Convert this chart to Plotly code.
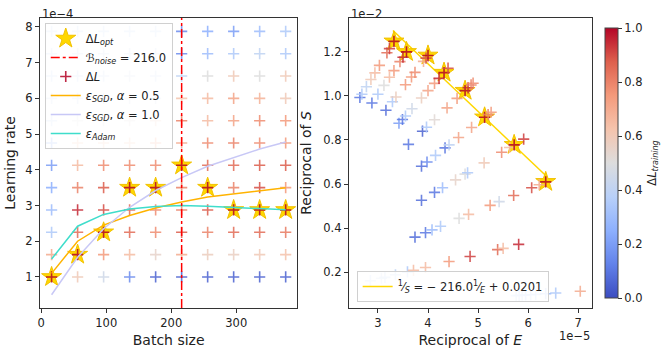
import plotly.graph_objects as go

# ---------------- data: left panel ----------------
batch_sizes = [16, 56, 96, 136, 176, 216, 256, 296, 336, 376]
lr_1e4 = [1.0, 1.625, 2.25, 2.875, 3.5, 4.125, 4.75, 5.375, 6.0, 6.625, 7.25, 7.875]
# normalised Delta L per (lr row, batch column), rows bottom -> top
dl_grid = [
    [1.00, 0.60, 0.45, 0.15, 0.05, 0.05, 0.05, 0.05, 0.05, 0.05],
    [0.70, 1.00, 0.75, 0.65, 0.55, 0.70, 0.58, 0.57, 0.60, 0.63],
    [0.35, 0.85, 1.00, 0.85, 0.78, 0.88, 0.80, 0.85, 0.85, 0.82],
    [0.30, 0.95, 0.90, 0.85, 0.78, 0.80, 0.88, 1.00, 1.00, 1.00],
    [0.25, 0.80, 0.88, 1.00, 1.00, 0.80, 1.00, 0.80, 0.90, 0.75],
    [0.20, 0.65, 0.78, 0.78, 0.78, 1.00, 0.85, 0.85, 0.88, 0.88],
    [0.20, 0.65, 0.65, 0.65, 0.75, 0.70, 0.78, 0.80, 0.78, 0.75],
    [0.40, 0.50, 0.50, 0.52, 0.60, 0.80, 0.65, 0.72, 0.78, 0.75],
    [0.42, 0.42, 0.45, 0.45, 0.45, 0.62, 0.65, 0.72, 0.68, 0.60],
    [0.40, 0.40, 0.42, 0.45, 0.42, 0.40, 0.50, 0.60, 0.50, 0.60],
    [0.40, 0.42, 0.42, 0.42, 0.42, 0.15, 0.30, 0.35, 0.40, 0.35],
    [0.40, 0.40, 0.40, 0.40, 0.40, 0.15, 0.25, 0.20, 0.30, 0.35],
]
opt_lr_1e4 = [1.0, 1.625, 2.25, 3.5, 3.5, 4.125, 3.5, 2.875, 2.875, 2.875]
eps_sgd_05 = [1.10, 2.00, 2.45, 2.72, 2.93, 3.10, 3.24, 3.33, 3.42, 3.50]
eps_sgd_10 = [0.50, 1.55, 2.35, 2.95, 3.42, 3.78, 4.10, 4.35, 4.58, 4.78]
eps_adam = [1.50, 2.42, 2.75, 2.90, 2.97, 3.00, 2.98, 2.95, 2.92, 2.88]
B_NOISE = 216.0

# ---------------- data: right panel (1/E in 1e-5, 1/S in 1e-2) ----------------
inv_E_1e5 = [
    5.76, 5.82, 5.88, 5.95, 6.05, 6.15, 6.35, 6.55, 7.04,                     # B=16
    2.85, 3.07, 3.14, 3.35, 3.59, 3.71, 3.95, 4.42, 4.84, 5.39, 5.50, 5.81,   # B=56
    3.74, 3.95, 4.08, 4.25, 4.62, 4.81, 5.24, 5.42, 5.71, 6.07, 6.22, 6.35,   # B=96
    3.87, 4.13, 4.29, 4.55, 4.74, 4.79, 5.12, 5.47, 5.63, 5.72, 5.91,         # B=136
    3.87, 3.98, 4.15, 4.34, 4.42, 4.61, 4.87, 5.13, 5.20, 5.26,               # B=176
    3.61, 3.89, 3.97, 4.13, 4.38, 4.58, 4.74, 4.80, 4.86, 4.90,               # B=216
    3.42, 3.49, 3.55, 3.68, 3.87, 4.00, 4.13, 4.22, 4.32, 4.40,               # B=256
    3.16, 3.29, 3.36, 3.55, 3.67, 3.74, 3.91, 3.96, 4.00,                     # B=296
    2.88, 3.00, 3.12, 3.23, 3.32, 3.44, 3.50, 3.57,                           # B=336
    2.64, 2.68, 2.77, 2.86, 2.94, 3.03, 3.18, 3.23, 3.32,                     # B=376
]
inv_S_1e2 = [
    0.093, 0.094, 0.095, 0.096, 0.097, 0.099, 0.102, 0.105, 0.113,
    0.161, 0.172, 0.176, 0.188, 0.201, 0.208, 0.221, 0.248, 0.271, 0.302, 0.308, 0.326,
    0.359, 0.379, 0.392, 0.408, 0.444, 0.462, 0.503, 0.520, 0.548, 0.583, 0.597, 0.610,
    0.526, 0.562, 0.583, 0.619, 0.645, 0.651, 0.696, 0.744, 0.766, 0.778, 0.804,
    0.681, 0.700, 0.730, 0.764, 0.778, 0.811, 0.857, 0.903, 0.915, 0.926,
    0.780, 0.840, 0.858, 0.892, 0.946, 0.989, 1.024, 1.037, 1.050, 1.058,
    0.876, 0.893, 0.909, 0.942, 0.991, 1.024, 1.057, 1.080, 1.106, 1.126,
    0.935, 0.974, 0.995, 1.051, 1.086, 1.107, 1.157, 1.172, 1.184,
    0.968, 1.008, 1.048, 1.085, 1.115, 1.156, 1.176, 1.200,
    0.993, 1.008, 1.042, 1.075, 1.105, 1.139, 1.196, 1.215, 1.248,
]
dl_right = [
    0.40, 0.38, 0.40, 0.35, 0.38, 0.35, 0.30, 0.35, 0.70,
    0.40, 0.42, 0.40, 0.40, 0.35, 0.65, 0.65, 0.75, 0.92, 0.85, 0.65, 0.95,
    0.08, 0.10, 0.30, 0.35, 0.50, 0.65, 0.75, 0.45, 0.85, 0.90, 0.70, 1.00,
    0.08, 0.10, 0.30, 0.55, 0.50, 0.35, 0.60, 0.78, 0.65, 1.00, 0.92,
    0.08, 0.15, 0.35, 0.10, 0.40, 0.72, 0.72, 1.00, 0.80, 0.75,
    0.10, 0.05, 0.35, 0.52, 0.72, 0.75, 1.00, 0.95, 0.80, 0.78,
    0.20, 0.10, 0.35, 0.45, 0.58, 0.72, 0.75, 0.95, 1.00, 0.90,
    0.08, 0.35, 0.58, 0.75, 0.75, 0.78, 0.70, 0.90, 1.00,
    0.10, 0.35, 0.50, 0.65, 0.75, 0.80, 0.95, 1.00,
    0.10, 0.35, 0.40, 0.60, 0.65, 0.75, 0.85, 0.92, 1.00,
]
opt_inv_E_1e5 = [3.32, 3.57, 4.00, 4.32, 4.74, 5.13, 5.72, 6.35]
opt_inv_S_1e2 = [1.248, 1.200, 1.184, 1.106, 1.024, 0.903, 0.778, 0.610]
FIT_SLOPE = -216.0
FIT_INTERCEPT = 0.0201
fit_x_1e5 = [3.30, 6.35]

# ---------------- styling ----------------
COOLWARM = [[0.0, '#3b4cc0'], [0.125, '#6282ea'], [0.25, '#8db0fe'], [0.375, '#b8d0f9'],
            [0.5, '#dddddd'], [0.625, '#f5c4ad'], [0.75, '#f49a7b'], [0.875, '#de604d'],
            [1.0, '#b40426']]
FONT = 'DejaVu Sans'
FS = 11.5
STAR_FILL = '#FFD700'
STAR_EDGE = '#F2C200'
STAR_SIZE = 15
CROSS_SIZE = 8

fig = go.Figure()

# left panel --------------------------------------------------------
fig.add_trace(go.Scatter(
    x=batch_sizes, y=opt_lr_1e4, mode='markers', name='Δ<i>L<sub>opt</sub></i>',
    marker=dict(symbol='star', size=STAR_SIZE, color=STAR_FILL, line=dict(color=STAR_EDGE, width=1)),
    xaxis='x', yaxis='y', legendrank=1))

cx, cy, cc = [], [], []
for i, lr in enumerate(lr_1e4):
    for j, b in enumerate(batch_sizes):
        cx.append(b)
        cy.append(lr)
        cc.append(dl_grid[i][j])
fig.add_trace(go.Scatter(
    x=cx, y=cy, mode='markers', name='Δ<i>L</i>',
    marker=dict(symbol='cross-thin', size=CROSS_SIZE, color=cc, colorscale=COOLWARM, cmin=0, cmax=1,
                opacity=0.85,
                line=dict(width=1.6, color=cc, colorscale=COOLWARM, cmin=0, cmax=1)),
    xaxis='x', yaxis='y', legendrank=3))

fig.add_trace(go.Scatter(x=batch_sizes, y=eps_sgd_05, mode='lines',
                         name='<i>ε<sub>SGD</sub></i>, <i>α</i> = 0.5',
                         line=dict(color='#FFB300', width=1.5), legendrank=4))
fig.add_trace(go.Scatter(x=batch_sizes, y=eps_sgd_10, mode='lines',
                         name='<i>ε<sub>SGD</sub></i>, <i>α</i> = 1.0',
                         line=dict(color='#C8C8F6', width=1.5), legendrank=5))
fig.add_trace(go.Scatter(x=batch_sizes, y=eps_adam, mode='lines',
                         name='<i>ε<sub>Adam</sub></i>',
                         line=dict(color='#3FDDCB', width=1.5), legendrank=6))

fig.add_shape(type='line', xref='x', yref='y domain', x0=B_NOISE, x1=B_NOISE, y0=0, y1=1,
              line=dict(color='#FF0000', width=1.5, dash='dashdot'),
              showlegend=True, name='ℬ<i><sub>noise</sub></i> = %.1f' % B_NOISE, legendrank=2)

# right panel -------------------------------------------------------
fit_y_1e2 = [(FIT_SLOPE * x * 1e-5 + FIT_INTERCEPT) * 1e2 for x in fit_x_1e5]
fig.add_trace(go.Scatter(x=fit_x_1e5, y=fit_y_1e2, mode='lines', xaxis='x2', yaxis='y2',
                         name='<sup>1</sup>⁄<sub><i>S</i></sub> = − 216.0<sup>1</sup>⁄<sub><i>E</i></sub> + 0.0201',
                         line=dict(color='#FFD700', width=1.5), legend='legend2'))
fig.add_trace(go.Scatter(x=opt_inv_E_1e5, y=opt_inv_S_1e2, mode='markers', xaxis='x2', yaxis='y2',
                         marker=dict(symbol='star', size=STAR_SIZE, color=STAR_FILL,
                                     line=dict(color=STAR_EDGE, width=1)),
                         showlegend=False))
fig.add_trace(go.Scatter(
    x=inv_E_1e5, y=inv_S_1e2, mode='markers', xaxis='x2', yaxis='y2', showlegend=False,
    marker=dict(symbol='cross-thin', size=CROSS_SIZE, color=dl_right, colorscale=COOLWARM, cmin=0, cmax=1,
                opacity=0.85,
                line=dict(width=1.6, color=dl_right, colorscale=COOLWARM, cmin=0, cmax=1))))
# colorbar carrier
fig.add_trace(go.Scatter(
    x=[None, None], y=[None, None], mode='markers', xaxis='x2', yaxis='y2', showlegend=False,
    marker=dict(color=[0, 1], colorscale=COOLWARM, cmin=0, cmax=1, showscale=True,
                colorbar=dict(x=610 / 670, xanchor='left', xref='paper', thickness=13,
                              len=290 / 354, lenmode='fraction', y=(354 - 163) / 354, yanchor='middle',
                              outlinewidth=1, outlinecolor='#444',
                              tickvals=[0, 0.2, 0.4, 0.6, 0.8, 1.0], tickformat='.1f',
                              ticks='outside', ticklen=4, tickcolor='#333',
                              tickfont=dict(family=FONT, size=FS, color='#222'),
                              title=dict(text='Δ<i>L<sub>training</sub></i>', side='right',
                                         font=dict(family=FONT, size=FS, color='#222'))))))

axis_common = dict(showline=True, linecolor='#333', linewidth=1, mirror=True, ticks='outside',
                   ticklen=4, tickcolor='#333', showgrid=False, zeroline=False,
                   tickfont=dict(family=FONT, size=FS, color='#222'))

fig.update_layout(
    width=670, height=354, margin=dict(l=0, r=0, t=0, b=0),
    paper_bgcolor='white', plot_bgcolor='white',
    font=dict(family=FONT, size=FS, color='#222'),
    xaxis=dict(domain=[39 / 670, 304 / 670], range=[-2, 394], tickvals=[0, 100, 200, 300],
               title=dict(text='Batch size', standoff=6), anchor='y', **axis_common),
    yaxis=dict(domain=[46 / 354, 336 / 354], range=[0.13, 8.25], tickvals=[1, 2, 3, 4, 5, 6, 7, 8],
               title=dict(text='Learning rate', standoff=6), anchor='x', **axis_common),
    xaxis2=dict(domain=[357 / 670, 607 / 670], range=[2.42, 7.27], tickvals=[3, 4, 5, 6, 7],
                title=dict(text='Reciprocal of <i>E</i>', standoff=6), anchor='y2', **axis_common),
    yaxis2=dict(domain=[46 / 354, 336 / 354], range=[0.037, 1.354],
                tickvals=[0.2, 0.4, 0.6, 0.8, 1.0, 1.2], tickformat='.1f',
                title=dict(text='Reciprocal of <i>S</i>', standoff=8), anchor='x2', **axis_common),
    legend=dict(x=44 / 670, y=(354 - 23) / 354, xanchor='left', yanchor='top',
                bgcolor='rgba(255,255,255,0.85)', bordercolor='#d0d0d0', borderwidth=1,
                font=dict(family=FONT, size=FS, color='#222'), itemwidth=30, tracegroupgap=0),
    legend2=dict(x=365 / 670, y=(354 - 302) / 354, xanchor='left', yanchor='bottom',
                 bgcolor='rgba(255,255,255,0.85)', bordercolor='#d0d0d0', borderwidth=1,
                 font=dict(family=FONT, size=FS, color='#222'), itemwidth=30),
    annotations=[
        dict(text='1e−4', x=39 / 670, y=(354 - 5) / 354, xref='paper', yref='paper',
             xanchor='left', yanchor='top', showarrow=False, font=dict(family=FONT, size=FS)),
        dict(text='1e−2', x=357 / 670, y=(354 - 5) / 354, xref='paper', yref='paper',
             xanchor='left', yanchor='top', showarrow=False, font=dict(family=FONT, size=FS)),
        dict(text='1e−5', x=607 / 670, y=(354 - 327) / 354, xref='paper', yref='paper',
             xanchor='right', yanchor='top', showarrow=False, font=dict(family=FONT, size=FS)),
    ],
)

fig.write_html('out.html')
